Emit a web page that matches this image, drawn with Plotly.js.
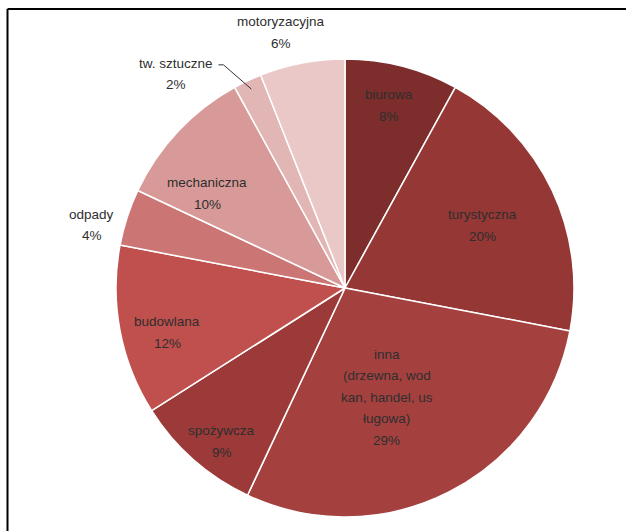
<!DOCTYPE html>
<html>
<head>
<meta charset="utf-8">
<script src="https://cdn.plot.ly/plotly-3.0.1.min.js"></script>
<style>
html,body{margin:0;padding:0;background:#fff;}
#chart{width:626px;height:531px;}
</style>
</head>
<body>
<div id="chart"></div>
<script>
// Data
var labels = ["biurowa", "turystyczna", "inna<br>(drzewna, wod<br>kan, handel, us<br>ługowa)", "spożywcza", "budowlana", "odpady", "mechaniczna", "tw. sztuczne", "motoryzacyjna"];
var values = [8, 20, 29, 9, 12, 4, 10, 2, 6];
var colors = ["#7C2D2C", "#953735", "#A4413F", "#9C3A39", "#C0504D", "#CB7674", "#D89A98", "#E2B6B4", "#EAC8C7"];

// Label placement style (radius fraction, angle nudge in degrees)
var labelR  = [0.82, 0.66, 0.51, 0.86, 0.80, 1.14, 0.73, 1.19, 1.15];
var labelDA = [-0.8, 0.8, 6, -2.6, -3.2, -4, -8.7, -13, -3.2];

var W = 626, H = 531;
var cxPx = 345, cyPx = 288, R = 229;
var domX = [(cxPx - R) / W, (cxPx + R) / W];
var domY = [1 - (cyPx + R) / H, 1 - (cyPx - R) / H];

var total = values.reduce(function(a, b) { return a + b; }, 0);
var annotations = [];
var shapes = [];
var cum = 0;
var lineH = 21.5;
for (var i = 0; i < values.length; i++) {
  var start = cum / total * 360;
  cum += values[i];
  var end = cum / total * 360;
  var mid = (start + end) / 2;
  var a = (mid + labelDA[i]) * Math.PI / 180;
  var px = cxPx + labelR[i] * R * Math.sin(a);
  var py = cyPx - labelR[i] * R * Math.cos(a);
  var pct = Math.round(values[i] / total * 100) + "%";
  var lines = labels[i].split("<br>").concat([pct]);
  var n = lines.length;
  for (var k = 0; k < n; k++) {
    var ly = py + (k - (n - 1) / 2) * lineH;
    annotations.push({
      xref: "paper", yref: "paper",
      x: px / W, y: 1 - ly / H,
      text: lines[k], showarrow: false,
      xanchor: "center", yanchor: "middle",
      font: {family: "Liberation Sans, Arial, sans-serif", size: 13.5, color: "#2e2e2e"}
    });
  }
  if (labels[i] === "tw. sztuczne") {
    var ea = mid * Math.PI / 180;
    var ex = cxPx + 0.96 * R * Math.sin(ea);
    var ey = cyPx - 0.96 * R * Math.cos(ea);
    var sx = px + 42, sy = py - 9;
    shapes.push({
      type: "path", xref: "paper", yref: "paper",
      path: "M " + (sx / W) + "," + (1 - sy / H) + " L " + ((sx + 5) / W) + "," + (1 - sy / H) + " L " + (ex / W) + "," + (1 - ey / H),
      line: {color: "#333333", width: 1}
    });
  }
}

// Frame border
shapes.push({type: "line", xref: "paper", yref: "paper", x0: 7.5 / W, x1: 1.02, y0: 1 - 9 / H, y1: 1 - 9 / H, line: {color: "#000", width: 2}});
shapes.push({type: "line", xref: "paper", yref: "paper", x0: 7.5 / W, x1: 7.5 / W, y0: 1 - 9 / H, y1: -0.02, line: {color: "#000", width: 2}});

var trace = {
  type: "pie",
  labels: labels,
  values: values,
  sort: false,
  direction: "clockwise",
  rotation: 0,
  textinfo: "none",
  hoverinfo: "label+percent",
  marker: {colors: colors, line: {color: "#ffffff", width: 1.5}},
  domain: {x: domX, y: domY},
  showlegend: false
};

var layout = {
  width: W, height: H,
  margin: {l: 0, r: 0, t: 0, b: 0},
  paper_bgcolor: "#ffffff",
  showlegend: false,
  annotations: annotations,
  shapes: shapes
};

Plotly.newPlot("chart", [trace], layout, {displayModeBar: false, staticPlot: true});
</script>
</body>
</html>
